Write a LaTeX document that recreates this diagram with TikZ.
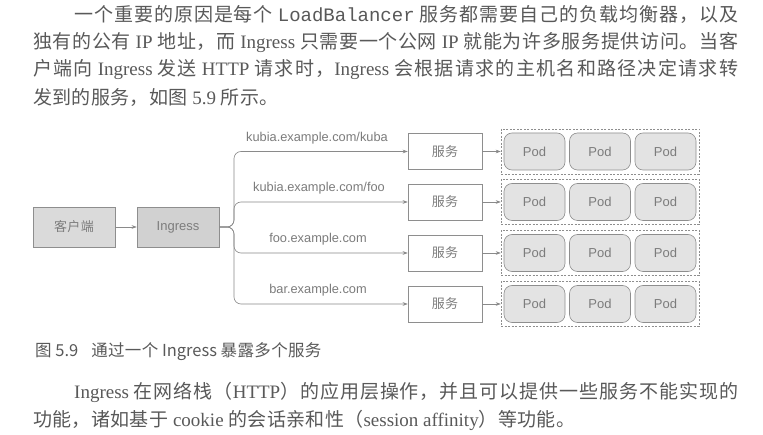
\documentclass[tikz,border=0pt]{standalone}
\usepackage{fontspec}
\setmainfont{Liberation Serif}
\setmonofont{Liberation Mono}
\newfontfamily\cjk{Noto Sans CJK SC}
\newfontfamily\dsans{Liberation Sans}
\usetikzlibrary{arrows.meta}
\newcount\cjkcc
\cjkcc="4E00 \loop \XeTeXcharclass\cjkcc=1 \advance\cjkcc by 1 \ifnum\cjkcc<"A000 \repeat
\cjkcc="3000 \loop \XeTeXcharclass\cjkcc=1 \advance\cjkcc by 1 \ifnum\cjkcc<"3040 \repeat
\cjkcc="FF00 \loop \XeTeXcharclass\cjkcc=1 \advance\cjkcc by 1 \ifnum\cjkcc<"FFF0 \repeat
\XeTeXinterchartoks 1 1 = {\hskip 0.35pt plus 3pt\relax}
\XeTeXinterchartokenstate=1
\definecolor{bodyc}{HTML}{595959}
\definecolor{capc}{HTML}{595959}
\definecolor{bordc}{HTML}{8E8E8E}
\definecolor{txtc}{HTML}{7C7C7C}
\definecolor{clientc}{HTML}{DADADA}
\definecolor{ingc}{HTML}{D1D1D1}
\definecolor{podc}{HTML}{E3E3E3}
\definecolor{arrc}{HTML}{8A8A8A}
\newcommand{\bodyline}[2]{\hbox to #1{\spaceskip=4.8pt plus 0.6pt\relax #2}}
\begin{document}
\begin{tikzpicture}[x=1pt,y=-1pt,
  bodytxt/.style={anchor=west, inner sep=0pt, text=bodyc, font=\fontsize{19}{19}\selectfont},
  capt/.style={anchor=west, inner sep=0pt, text=capc, font=\cjk\fontsize{16.5}{16.5}\selectfont},
  fbox/.style={draw=bordc, line width=0.6pt, minimum width=82pt, minimum height=40pt, inner sep=0pt, text=txtc},
  svc/.style={draw=bordc, line width=0.6pt, fill=white, minimum width=74pt, minimum height=36pt, inner sep=0pt, text=txtc, font=\cjk\fontsize{13}{13}\selectfont},
  pod/.style={draw=bordc, line width=0.6pt, fill=podc, rounded corners=8pt, minimum width=61pt, minimum height=37pt, inner sep=0pt, text=txtc, font=\dsans\fontsize{13}{13}\selectfont},
  grp/.style={draw=bordc, line width=0.5pt, dash pattern=on 2pt off 1.5pt, minimum width=198pt, minimum height=45pt, inner sep=0pt},
  arr/.style={draw=arrc, line width=0.6pt, -{Stealth[length=5pt,width=3.6pt]}},
  lbl/.style={inner sep=0pt, text=txtc, font=\dsans\fontsize{12.8}{12.8}\selectfont}
]
\useasboundingbox[fill=white] (0,0) rectangle (763,435);

% top paragraph
\node[bodytxt] (t1) at (74,14) {\bodyline{664pt}{{\cjk 一个重要的原因是每个} \texttt{LoadBalancer} {\cjk 服务都需要自己的负载均衡器，以及}}};
\node[bodytxt] (t2) at (33,42) {\bodyline{705pt}{{\cjk 独有的公有} IP {\cjk 地址，而} Ingress {\cjk 只需要一个公网} IP {\cjk 就能为许多服务提供访问。当客}}};
\node[bodytxt] (t3) at (33,70) {\bodyline{705pt}{{\cjk 户端向} Ingress {\cjk 发送} HTTP {\cjk 请求时，}Ingress {\cjk 会根据请求的主机名和路径决定请求转}}};
\node[bodytxt] (t4) at (33,98) {{\cjk 发到的服务，如图} 5.9 {\cjk 所示。}};

% diagram
\node[fbox, fill=clientc, font=\cjk\fontsize{13}{13}\selectfont] (cl) at (74,227) {客户端};
\node[fbox, fill=ingc, font=\dsans\fontsize{13}{13}\selectfont] (ing) at (178,227) {Ingress};
\draw[arr] (cl.east) -- (ing.west);
\coordinate (jn) at (234,227);

\foreach \i/\y in {1/151.5,2/202,3/253,4/304}{
  \node[svc] (s\i) at (445,\y) {服务};
  \node[grp] (g\i) at (600,\y) {};
  \node[pod] (p\i a) at (534.5,\y) {Pod};
  \node[pod] (p\i b) at (600,\y) {Pod};
  \node[pod] (p\i c) at (665.5,\y) {Pod};
  \draw[arr, rounded corners=7pt] (ing.east) -- (jn) |- (s\i.west);
  \draw[arr] (s\i.east) -- (g\i.west);
}

\node[lbl] (l1) at (317,138) {kubia.example.com/kuba};
\node[lbl] (l2) at (319,188) {kubia.example.com/foo};
\node[lbl] (l3) at (318,239) {foo.example.com};
\node[lbl] (l4) at (318,290) {bar.example.com};

% caption
\node[capt] (cap) at (35,352) {图 5.9\hspace{13pt}通过一个 Ingress 暴露多个服务};

% bottom paragraph
\node[bodytxt] (b1) at (74,392) {\bodyline{664pt}{Ingress {\cjk 在网络栈（}HTTP{\cjk ）的应用层操作，并且可以提供一些服务不能实现的}}};
\node[bodytxt] (b2) at (33,420) {{\cjk 功能，诸如基于} cookie {\cjk 的会话亲和性（}session affinity{\cjk ）等功能。}};
\end{tikzpicture}
\end{document}
